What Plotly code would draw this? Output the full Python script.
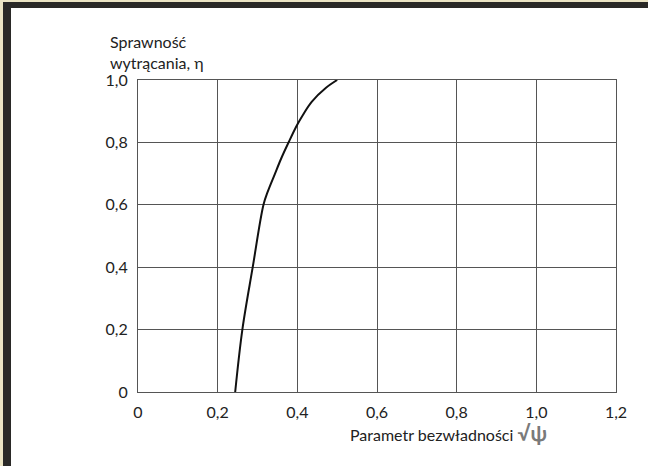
import plotly.graph_objects as go

# ---- data ----
psi_sqrt = [0.244, 0.262, 0.288, 0.315, 0.326, 0.343, 0.360, 0.378, 0.399, 0.414, 0.436, 0.472, 0.500]
eta = [0.0, 0.2, 0.4, 0.6, 0.643, 0.697, 0.750, 0.800, 0.855, 0.888, 0.930, 0.975, 1.0]

x_tickvals = [0, 0.2, 0.4, 0.6, 0.8, 1.0, 1.2]
x_ticktext = ["0", "0,2", "0,4", "0,6", "0,8", "1,0", "1,2"]
y_tickvals = [0, 0.2, 0.4, 0.6, 0.8, 1.0]
y_ticktext = ["0", "0,2", "0,4", "0,6", "0,8", "1,0"]

y_title = "Sprawność<br>wytrącania, η"
x_title = "Parametr bezwładności"
x_title_symbol = "√ψ"

# ---- layout geometry ----
W, H = 648, 466
ML, MR, MT, MB = 138, 32, 80, 74
PW, PH = W - ML - MR, H - MT - MB


def px(p):
    return (p - ML) / PW


def py(p):
    return (H - MB - p) / PH


FONT = "Lato"
TXT = "#222222"
GRID = "#555555"

fig = go.Figure()
fig.add_trace(go.Scatter(
    x=psi_sqrt, y=eta, mode="lines",
    line=dict(color="#111111", width=2, shape="spline", smoothing=1.0),
    hoverinfo="skip", showlegend=False,
))

axis_common = dict(
    showgrid=True, gridcolor=GRID, gridwidth=1,
    showline=True, linecolor=GRID, linewidth=1, mirror=True,
    zeroline=False,
    ticks="outside", ticklen=6, tickcolor="rgba(0,0,0,0)",
    tickfont=dict(family=FONT, size=16, color=TXT),
)

fig.update_xaxes(range=[0, 1.2], tickvals=x_tickvals, ticktext=x_ticktext, **axis_common)
fig.update_yaxes(range=[0, 1.0], tickvals=y_tickvals, ticktext=y_ticktext, **axis_common)

BEIGE = "#ebe4c4"
DARK = "#2a2927"
shapes = [
    dict(type="rect", xref="paper", yref="paper", x0=px(0), x1=px(3), y0=py(H), y1=py(0),
         fillcolor=BEIGE, line=dict(width=0), layer="above"),
    dict(type="rect", xref="paper", yref="paper", x0=px(0), x1=px(W), y0=py(2), y1=py(0),
         fillcolor=BEIGE, line=dict(width=0), layer="above"),
    dict(type="rect", xref="paper", yref="paper", x0=px(3), x1=px(11), y0=py(H), y1=py(2),
         fillcolor=DARK, line=dict(width=0), layer="above"),
    dict(type="rect", xref="paper", yref="paper", x0=px(3), x1=px(W), y0=py(8), y1=py(2),
         fillcolor=DARK, line=dict(width=0), layer="above"),
]

annotations = [
    dict(text=y_title, xref="paper", yref="paper", x=px(108), y=py(30),
         xanchor="left", yanchor="top", align="left", showarrow=False,
         font=dict(family=FONT, size=16, color=TXT)),
    dict(text=x_title + " <span style='font-size:21px;color:#7a7a7a'><b>" + x_title_symbol + "</b></span>",
         xref="paper", yref="paper", x=px(348), y=py(432),
         xanchor="left", yanchor="middle", showarrow=False,
         font=dict(family=FONT, size=16, color=TXT)),
]

fig.update_layout(
    width=W, height=H,
    margin=dict(l=ML, r=MR, t=MT, b=MB, pad=0),
    paper_bgcolor="white", plot_bgcolor="white",
    shapes=shapes, annotations=annotations,
    showlegend=False,
)

fig.write_html(
    "out.html",
    config={"displayModeBar": False, "staticPlot": True},
    post_script="document.body.style.margin='0';document.body.style.overflow='hidden';",
)
